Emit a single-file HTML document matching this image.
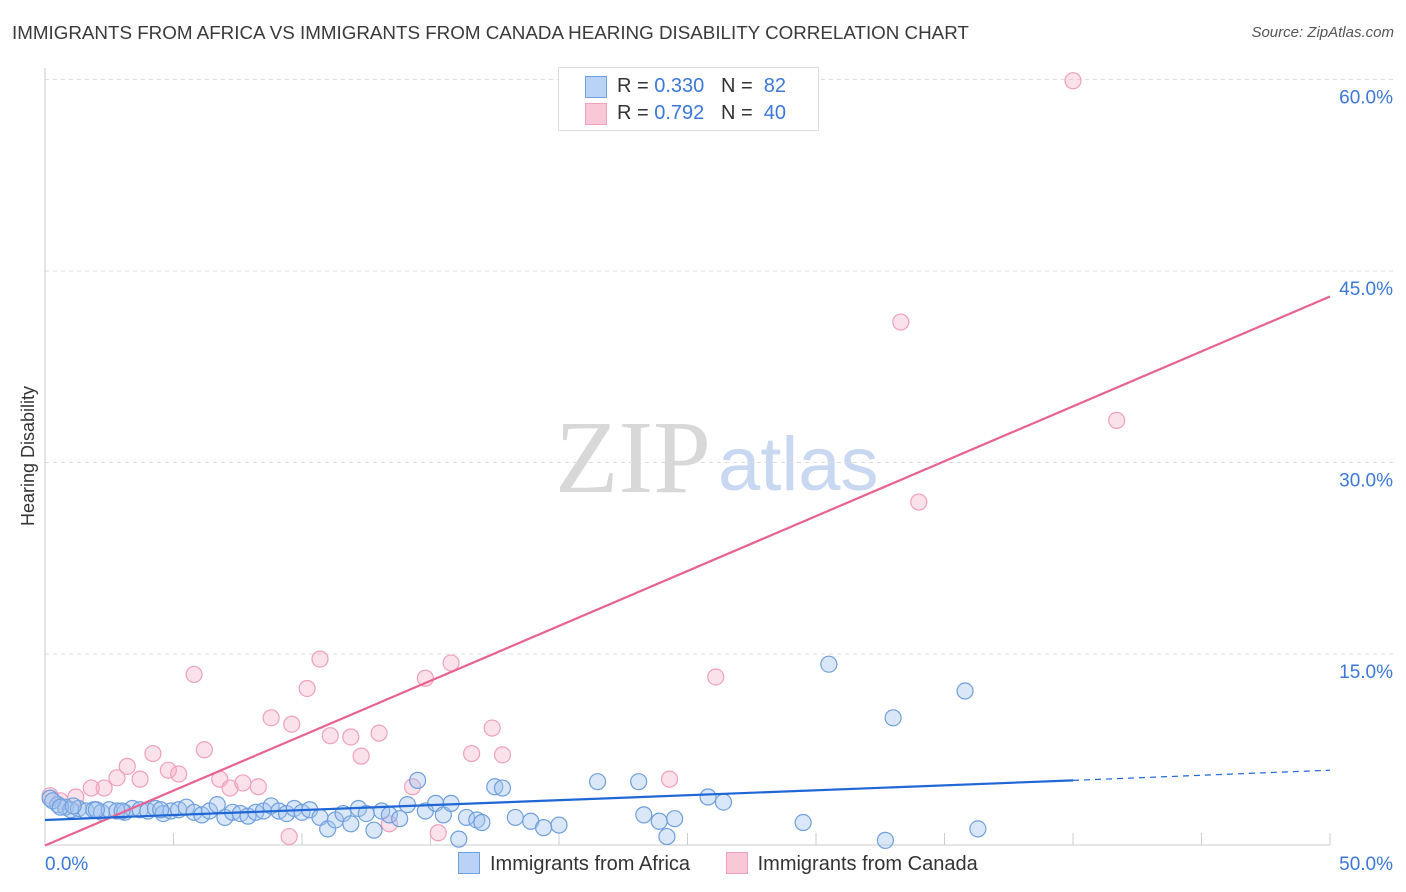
<!DOCTYPE html>
<html><head><meta charset="utf-8">
<style>
body{margin:0;background:#fff;font-family:"Liberation Sans",sans-serif;}
#wrap{position:relative;width:1406px;height:892px;overflow:hidden;}
</style></head>
<body>
<div id="wrap">
<div style="position:absolute;left:12px;top:22px;font-size:18.8px;color:#3a3a3a;">IMMIGRANTS FROM AFRICA VS IMMIGRANTS FROM CANADA HEARING DISABILITY CORRELATION CHART</div>
<div style="position:absolute;right:12px;top:24px;font-size:15px;color:#555;font-style:italic;">Source: ZipAtlas.com</div>
<svg id="svg" width="1406" height="892" style="position:absolute;left:0;top:0"></svg>
</div>
<script>
const africaX=[0.2,0.5,0.8,1.0,1.3,1.6,1.9,2.2,2.5,2.8,3.1,3.4,3.7,4.0,4.3,4.6,4.9,5.2,5.5,5.8,6.1,6.4,6.7,7.0,7.3,7.6,7.9,8.2,8.5,8.8,9.1,9.4,9.7,10.0,10.3,10.7,11.0,11.3,11.6,11.9,12.2,12.5,12.8,13.1,13.4,13.8,14.1,14.5,14.8,15.2,15.5,15.8,16.1,16.4,16.8,17.0,17.5,17.8,18.3,18.9,19.4,20.0,21.5,23.1,23.3,23.9,24.2,24.5,25.8,26.4,29.5,30.5,33.0,32.7,35.8,36.3,0.3,0.6,1.1,2.0,3.0,4.5];
const africaY=[3.7,3.2,3.0,2.8,2.9,2.7,2.8,2.6,2.8,2.7,2.6,2.9,2.8,2.7,2.9,2.5,2.7,2.8,3.0,2.6,2.4,2.7,3.2,2.2,2.6,2.5,2.3,2.6,2.7,3.1,2.7,2.5,2.9,2.6,2.8,2.2,1.3,2.0,2.5,1.7,2.9,2.5,1.2,2.7,2.4,2.1,3.2,5.1,2.7,3.3,2.4,3.3,0.5,2.2,2.0,1.8,4.6,4.5,2.2,1.9,1.4,1.6,5.0,5.0,2.4,1.9,0.7,2.1,3.8,3.4,1.8,14.2,10.0,0.4,12.1,1.3,3.5,3.0,3.1,2.8,2.7,2.8];
const canadaX=[0.2,0.6,1.2,1.8,2.3,2.8,3.2,3.7,4.2,4.8,5.2,5.8,6.2,6.8,7.2,7.7,8.3,8.8,9.5,9.6,10.2,10.7,11.1,11.9,12.3,13.0,13.4,14.3,14.8,15.3,15.8,16.6,17.4,17.8,24.3,26.1,33.3,34.0,40.0,41.7];
const canadaY=[3.9,3.5,3.8,4.5,4.5,5.3,6.2,5.2,7.2,5.9,5.6,13.4,7.5,5.2,4.5,4.9,4.6,10.0,0.7,9.5,12.3,14.6,8.6,8.5,7.0,8.8,1.7,4.6,13.1,1.0,14.3,7.2,9.2,7.1,5.2,13.2,41.0,26.9,59.9,33.3];
const yTicks=[15,30,45,60];
const yTickLabels=["15.0%","30.0%","45.0%","60.0%"];
const xTickVals=[0,5,10,15,20,25,30,35,40,45,50];
const blueLine=[2.0,5.1,5.9]; // at x=0, 40, 50
const pinkLine=[0.0,43.0]; // at x=0, 50

const X=v=>45+v*25.7, Y=v=>845.5-v*12.767;
const svg=document.getElementById('svg');const NS='http://www.w3.org/2000/svg';
function mk(t,a,p){const e=document.createElementNS(NS,t);for(const k in a)e.setAttribute(k,a[k]);(p||svg).appendChild(e);return e;}

let wm=mk('text',{x:555,y:492,'font-size':104,fill:'#d8d8d8','font-family':'Liberation Serif,serif'});wm.textContent='ZIP';


let wm2=mk('text',{x:718,y:490,'font-size':76,fill:'#c8d8f0','font-family':'Liberation Sans,sans-serif'});wm2.textContent='atlas';



yTicks.forEach((t,i)=>{
 const g=mk('line',{x1:45,x2:1395,y1:Y(t),y2:Y(t),stroke:'#dcdcdc','stroke-dasharray':'4,4'});
 
 
 const l=mk('text',{x:1393,y:Y(t)+24,'text-anchor':'end','font-size':19,fill:'#3b78d8'});l.textContent=yTickLabels[i];
 
 
});
const ax=mk('line',{x1:45,x2:45,y1:68,y2:845,stroke:'#ccc'});


const bx=mk('line',{x1:45,x2:1330,y1:845,y2:845,stroke:'#ccc'});


xTickVals.forEach(v=>{const t=mk('line',{x1:X(v),x2:X(v),y1:833,y2:845,stroke:'#ccc'});
 
 });
let xl=mk('text',{x:45,y:870,'font-size':19,fill:'#3b78d8'});xl.textContent='0.0%';


let xr=mk('text',{x:1393,y:870,'font-size':19,fill:'#3b78d8','text-anchor':'end'});xr.textContent='50.0%';


let yt=mk('text',{x:34,y:456,'font-size':18,fill:'#333','text-anchor':'middle',transform:'rotate(-90 34 456)'});yt.textContent='Hearing Disability';



canadaX.forEach((v,i)=>{const c=mk('circle',{cx:X(v),cy:Y(canadaY[i]),r:8,fill:'rgba(244,170,195,0.35)',stroke:'#f0a0ba','stroke-width':1.2});
 
 });
africaX.forEach((v,i)=>{const c=mk('circle',{cx:X(v),cy:Y(africaY[i]),r:8,fill:'rgba(160,195,240,0.4)',stroke:'#6f9fdc','stroke-width':1.2});
 
 });

const pl=mk('line',{x1:X(0),y1:Y(pinkLine[0]),x2:X(50),y2:Y(pinkLine[1]),stroke:'#e8628f','stroke-width':2.2});


const bl=mk('line',{x1:X(0),y1:Y(blueLine[0]),x2:X(40),y2:Y(blueLine[1]),stroke:'#1f66d6','stroke-width':2.2});


const bd=mk('line',{x1:X(40),y1:Y(blueLine[1]),x2:X(50),y2:Y(blueLine[2]),stroke:'#1f66d6','stroke-width':1.2,'stroke-dasharray':'6,5'});


</script>

<div style="position:absolute;left:558px;top:67px;width:259px;height:62px;border:1px solid #ddd;background:#fff;font-size:20px;">
 <div style="position:absolute;left:26px;top:8px;width:20px;height:20px;background:#b9d2f5;border:1px solid #6f9fdc;"></div>
 <div style="position:absolute;left:58px;top:7px;color:#333;">R = <span style="color:#3b78d8">0.330</span>&nbsp;&nbsp;&nbsp;N = &nbsp;<span style="color:#3b78d8">82</span></div>
 <div style="position:absolute;left:26px;top:35px;width:20px;height:20px;background:#f9c8d6;border:1px solid #f0a0ba;"></div>
 <div style="position:absolute;left:58px;top:34px;color:#333;">R = <span style="color:#3b78d8">0.792</span>&nbsp;&nbsp;&nbsp;N = &nbsp;<span style="color:#3b78d8">40</span></div>
</div>
<div style="position:absolute;left:458px;top:852px;font-size:20px;color:#333;white-space:nowrap;">
 <span><span style="display:inline-block;width:20px;height:20px;background:#b9d2f5;border:1px solid #6f9fdc;vertical-align:-4px;margin-right:10px;"></span>Immigrants from Africa</span>
 <span style="margin-left:30px;"><span style="display:inline-block;width:20px;height:20px;background:#f9c8d6;border:1px solid #f0a0ba;vertical-align:-4px;margin-right:10px;"></span>Immigrants from Canada</span>
</div>
</body></html>
